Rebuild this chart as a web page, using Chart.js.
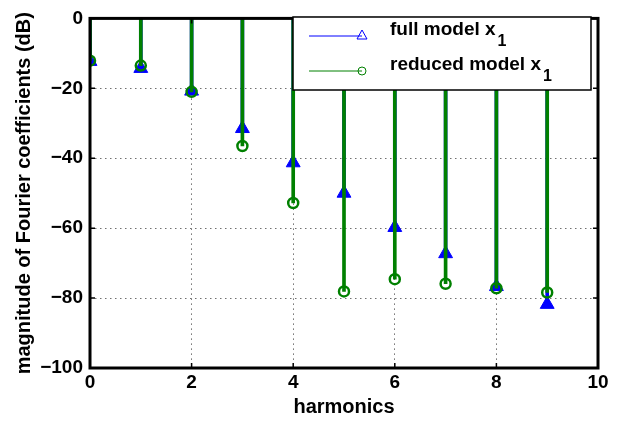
<!DOCTYPE html>
<html>
<head>
<meta charset="utf-8">
<script src="https://cdn.jsdelivr.net/npm/chart.js@4/dist/chart.umd.min.js"></script>
<style>
  html, body { margin: 0; padding: 0; background: #fff; }
  #wrap { width: 622px; height: 421px; }
</style>
</head>
<body>
<div id="wrap"><canvas id="stemChart"></canvas></div>
<script>
const harmonics = [0, 1, 2, 3, 4, 5, 6, 7, 8, 9];
const fullModel = [-12.3, -14.3, -20.8, -31.5, -41.3, -50.0, -59.8, -67.3, -76.7, -81.8];
const reducedModel = [-12.1, -13.5, -21.0, -36.5, -52.8, -78.1, -74.6, -75.9, -77.2, -78.4];
const xTicks = [0, 2, 4, 6, 8, 10];
const yTicks = [0, -20, -40, -60, -80, -100];
const legendLabels = ['full model x', 'reduced model x'];

const BLUE = '#0000ff';
const GREEN = '#008000';
const FONT = '"Liberation Sans", Arial, sans-serif';

const stems = (vals) => harmonics.map((h, i) => ({ x: h, y: [0, vals[i]] }));
const points = (vals) => harmonics.map((h, i) => ({ x: h, y: vals[i] }));

// frame, inward ticks and legend with subscripts
const matlabBox = {
  id: 'matlabBox',
  afterDraw(chart) {
    const { ctx, chartArea: a, scales } = chart;
    const xs = scales.x, ys = scales.y;
    ctx.save();
    ctx.strokeStyle = '#000';
    ctx.lineWidth = 1.5;
    ctx.beginPath();
    xTicks.forEach(t => {
      const px = xs.getPixelForValue(t);
      ctx.moveTo(px, a.bottom); ctx.lineTo(px, a.bottom - 5);
      ctx.moveTo(px, a.top); ctx.lineTo(px, a.top + 5);
    });
    yTicks.forEach(t => {
      const py = ys.getPixelForValue(t);
      ctx.moveTo(a.left, py); ctx.lineTo(a.left + 5, py);
      ctx.moveTo(a.right, py); ctx.lineTo(a.right - 5, py);
    });
    ctx.stroke();
    ctx.lineWidth = 3;
    ctx.strokeRect(a.left, a.top, a.right - a.left, a.bottom - a.top);

    // legend
    const lx = 293, ly = 17, lw = 298, lh = 73;
    ctx.fillStyle = '#fff';
    ctx.fillRect(lx, ly, lw, lh);
    ctx.lineWidth = 1.5;
    ctx.strokeRect(lx, ly, lw, lh);
    const rows = [
      { y: 36, color: BLUE, marker: 'tri' },
      { y: 71, color: GREEN, marker: 'circ' }
    ];
    rows.forEach((r, i) => {
      ctx.strokeStyle = r.color;
      ctx.lineWidth = 1;
      ctx.beginPath();
      ctx.moveTo(309, r.y); ctx.lineTo(362, r.y);
      ctx.stroke();
      ctx.beginPath();
      if (r.marker === 'tri') {
        ctx.moveTo(362, r.y - 6); ctx.lineTo(367, r.y + 3); ctx.lineTo(357, r.y + 3); ctx.closePath();
      } else {
        ctx.arc(362, r.y, 4, 0, Math.PI * 2);
      }
      ctx.stroke();
      ctx.fillStyle = '#000';
      ctx.font = 'bold 19px ' + FONT;
      ctx.textBaseline = 'middle';
      ctx.textAlign = 'left';
      ctx.fillText(legendLabels[i], 390, r.y - 6);
      const w = ctx.measureText(legendLabels[i]).width;
      ctx.font = 'bold 16px ' + FONT;
      ctx.fillText('1', 390 + w + 2, r.y + 6);
    });
    ctx.restore();
  }
};

const gridOpts = { drawTicks: false, offset: false, color: '#707070', lineWidth: 1 };

new Chart(document.getElementById('stemChart'), {
  type: 'bar',
  data: {
    datasets: [
      { type: 'scatter', data: points(reducedModel), order: 0, pointStyle: 'circle',
        radius: 5, borderWidth: 2.5, borderColor: GREEN, backgroundColor: 'rgba(0,0,0,0)' },
      { type: 'bar', data: stems(reducedModel), order: 1, backgroundColor: GREEN,
        barThickness: 3, grouped: false },
      { type: 'scatter', data: points(fullModel), order: 2, pointStyle: 'triangle',
        radius: 8, borderWidth: 1, borderColor: BLUE, backgroundColor: BLUE },
      { type: 'bar', data: stems(fullModel), order: 3, backgroundColor: BLUE,
        barThickness: 3, grouped: false }
    ]
  },
  options: {
    responsive: true,
    maintainAspectRatio: false,
    animation: false,
    layout: { padding: { left: 12, right: 24, top: 12, bottom: 2 } },
    plugins: { legend: { display: false }, tooltip: { enabled: false } },
    scales: {
      x: {
        type: 'linear', min: 0, max: 10, offset: false,
        afterBuildTicks: s => { s.ticks = xTicks.map(v => ({ value: v })); },
        afterFit: s => { s.height = 51; },
        ticks: { color: '#000', font: { family: FONT, size: 19, weight: 'bold' }, padding: 3, maxRotation: 0 },
        grid: gridOpts,
        border: { display: false, dash: [1.5, 3.5] },
        title: { display: true, text: 'harmonics', color: '#000',
          font: { family: FONT, size: 20, weight: 'bold' }, padding: { top: 0, bottom: 0 } }
      },
      y: {
        min: -100, max: 0,
        afterBuildTicks: s => { s.ticks = yTicks.map(v => ({ value: v })); },
        afterFit: s => { s.width = 78; },
        ticks: { color: '#000', font: { family: FONT, size: 19, weight: 'bold' }, padding: 7,
          callback: v => String(v).replace('-', '\u2212') },
        grid: gridOpts,
        border: { display: false, dash: [1.5, 3.5] },
        title: { display: true, text: 'magnitude of Fourier coefficients (dB)', color: '#000',
          font: { family: FONT, size: 20, weight: 'bold' }, padding: { top: 0, bottom: 2 } }
      }
    }
  },
  plugins: [matlabBox]
});
</script>
</body>
</html>
